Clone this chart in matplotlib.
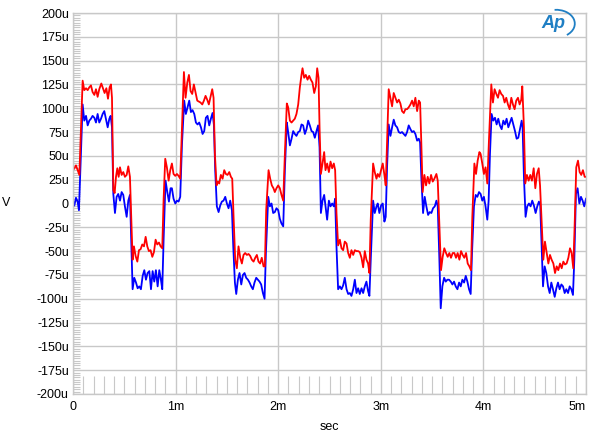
import numpy as np
import matplotlib
matplotlib.use('Agg')
import matplotlib.pyplot as plt
from matplotlib.ticker import MultipleLocator
from matplotlib.patches import Arc

plt.rcParams['font.family'] = ['Liberation Sans', 'DejaVu Sans']

# red trace: time (ms), level (uV)
red_t = [0.000, 0.013, 0.029, 0.045, 0.062, 0.078, 0.094, 0.110, 0.127, 0.143,
         0.159, 0.175, 0.191, 0.208, 0.224, 0.240, 0.256, 0.276, 0.292, 0.308,
         0.325, 0.341, 0.357, 0.370, 0.380, 0.393, 0.406, 0.419, 0.432, 0.445,
         0.458, 0.474, 0.490, 0.506, 0.523, 0.539, 0.555, 0.568, 0.581, 0.594,
         0.610, 0.627, 0.643, 0.659, 0.675, 0.692, 0.708, 0.724, 0.740, 0.756,
         0.773, 0.789, 0.805, 0.821, 0.838, 0.854, 0.870, 0.883, 0.899, 0.915,
         0.932, 0.948,
         0.964, 0.980, 0.997, 1.013, 1.029, 1.045, 1.062, 1.081, 1.097, 1.114,
         1.130, 1.146, 1.162, 1.178, 1.195, 1.211, 1.227, 1.243, 1.260, 1.276,
         1.292, 1.308, 1.324, 1.341, 1.357, 1.370, 1.383, 1.399, 1.412, 1.425,
         1.441, 1.458, 1.474, 1.490, 1.506, 1.523, 1.539, 1.552, 1.565, 1.581,
         1.597, 1.613, 1.630, 1.646, 1.662, 1.678, 1.695, 1.711, 1.727, 1.743,
         1.760, 1.776, 1.792, 1.808, 1.824, 1.840, 1.857, 1.870, 1.883, 1.906,
         1.922, 1.938, 1.954,
         1.967, 1.983, 2.000, 2.016, 2.032, 2.049, 2.065, 2.084, 2.097, 2.114,
         2.130, 2.146, 2.162, 2.178, 2.195, 2.211, 2.227, 2.237, 2.253, 2.269,
         2.286, 2.302, 2.318, 2.334, 2.351, 2.367, 2.380, 2.393, 2.403, 2.416,
         2.432, 2.448, 2.461, 2.477, 2.494, 2.510, 2.526, 2.542, 2.555, 2.568,
         2.584, 2.601, 2.617, 2.633, 2.649, 2.666, 2.682, 2.698, 2.714, 2.731,
         2.747, 2.763, 2.779, 2.795, 2.812, 2.828, 2.844, 2.860, 2.876, 2.889,
         2.902, 2.925, 2.941, 2.958,
         2.970, 2.986, 3.003, 3.019, 3.035, 3.048, 3.061, 3.077, 3.094, 3.110,
         3.126, 3.142, 3.159, 3.175, 3.191, 3.207, 3.224, 3.240, 3.256, 3.272,
         3.289, 3.305, 3.321, 3.337, 3.354, 3.370, 3.383, 3.395, 3.408, 3.425,
         3.441, 3.457, 3.473, 3.490, 3.506, 3.522, 3.542, 3.555, 3.571, 3.587,
         3.603, 3.619, 3.636, 3.652, 3.668, 3.684, 3.701, 3.717, 3.733, 3.749,
         3.766, 3.782, 3.798, 3.814, 3.831, 3.847, 3.863, 3.879, 3.892, 3.912,
         3.928, 3.944, 3.961,
         3.973, 3.989, 4.005, 4.021, 4.038, 4.054, 4.077, 4.093, 4.109, 4.126,
         4.142, 4.158, 4.174, 4.191, 4.207, 4.223, 4.239, 4.256, 4.272, 4.288,
         4.304, 4.320, 4.337, 4.353, 4.369, 4.379, 4.395, 4.408, 4.424, 4.441,
         4.457, 4.473, 4.490, 4.506, 4.522, 4.539, 4.552, 4.568, 4.584, 4.600,
         4.617, 4.633, 4.649, 4.665, 4.682, 4.698, 4.714, 4.730, 4.747, 4.763,
         4.779, 4.795, 4.811, 4.828, 4.844, 4.860, 4.876, 4.889, 4.905, 4.922,
         4.938, 4.954, 4.970, 4.987, 5.000]
red_v = [35, 37, 40, 35, 30, 80, 129, 119, 121, 119,
         122, 124, 117, 114, 120, 112, 120, 126, 121, 116,
         121, 110, 122, 125, 111, 14, 11, 28, 37, 28,
         38, 30, 33, 28, 30, 39, 28, -14, -59, -45,
         -55, -61, -49, -48, -43, -45, -35, -45, -50, -49,
         -56, -51, -38, -43, -41, -45, -47, 4, 47, 38,
         24, 35,
         42, 31, 29, 31, 29, 26, 80, 138, 111, 127,
         135, 118, 115, 125, 116, 108, 107, 106, 104, 108,
         113, 109, 104, 112, 120, 111, 52, 19, 23, 21,
         30, 26, 35, 31, 30, 33, 28, 26, -14, -59,
         -68, -45, -57, -63, -54, -52, -54, -53, -55, -59,
         -61, -57, -54, -61, -63, -57, -66, -66, -7, 35,
         26, 19, 16,
         12, 16, 19, 16, 9, 3, 52, 105, 101, 87,
         85, 87, 89, 94, 104, 122, 135, 142, 132, 135,
         130, 134, 130, 127, 116, 123, 142, 132, 80, 31,
         42, 54, 35, 42, 33, 44, 37, 42, 35, -10,
         -44, -38, -47, -49, -40, -42, -52, -57, -49, -54,
         -49, -50, -50, -51, -57, -67, -50, -59, -63, -73,
         -17, 42, 33, 26,
         31, 28, 35, 42, 30, 19, 63, 120, 111, 102,
         116, 111, 106, 109, 105, 97, 95, 99, 99, 101,
         104, 108, 102, 111, 97, 108, 106, 63, 12, 30,
         19, 28, 21, 30, 23, 26, 31, 24, -24, -70,
         -56, -47, -52, -56, -52, -57, -52, -52, -57, -52,
         -59, -50, -54, -57, -52, -63, -66, -70, -14, 42,
         31, 45, 54,
         52, 42, 31, 38, 21, 66, 125, 106, 120, 115,
         111, 119, 115, 113, 106, 111, 104, 99, 111, 104,
         99, 108, 111, 104, 109, 123, 80, 21, 30, 24,
         30, 24, 37, 16, 31, 37, 19, -21, -59, -40,
         -52, -63, -54, -59, -63, -73, -66, -70, -63, -68,
         -61, -64, -63, -57, -47, -52, -68, -24, 38, 45,
         33, 30, 35, 28, 28]

# blue trace: time (ms), level (uV)
blue_t = [0.000, 0.013, 0.029, 0.045, 0.058, 0.075, 0.094, 0.110, 0.127, 0.143,
          0.159, 0.175, 0.191, 0.208, 0.224, 0.240, 0.256, 0.273, 0.289, 0.305,
          0.321, 0.338, 0.354, 0.367, 0.380, 0.393, 0.409, 0.425, 0.441, 0.458,
          0.474, 0.490, 0.506, 0.523, 0.539, 0.555, 0.568, 0.581, 0.597, 0.614,
          0.630, 0.646, 0.662, 0.679, 0.695, 0.711, 0.727, 0.744, 0.760, 0.776,
          0.792, 0.808, 0.825, 0.841, 0.857, 0.870, 0.883, 0.902, 0.919, 0.935,
          0.951,
          0.964, 0.980, 0.997, 1.013, 1.029, 1.045, 1.062, 1.084, 1.100, 1.117,
          1.133, 1.149, 1.165, 1.182, 1.198, 1.214, 1.230, 1.247, 1.263, 1.279,
          1.295, 1.311, 1.328, 1.344, 1.360, 1.373, 1.386, 1.402, 1.419, 1.435,
          1.451, 1.467, 1.484, 1.500, 1.516, 1.532, 1.549, 1.562, 1.578, 1.591,
          1.607, 1.623, 1.640, 1.656, 1.672, 1.688, 1.705, 1.721, 1.737, 1.753,
          1.769, 1.786, 1.802, 1.818, 1.834, 1.851, 1.867, 1.880, 1.903, 1.919,
          1.935, 1.951,
          1.967, 1.983, 2.000, 2.016, 2.032, 2.049, 2.065, 2.084, 2.097, 2.114,
          2.130, 2.146, 2.162, 2.178, 2.195, 2.211, 2.227, 2.243, 2.260, 2.276,
          2.292, 2.308, 2.325, 2.341, 2.357, 2.373, 2.389, 2.403, 2.416, 2.432,
          2.448, 2.464, 2.477, 2.494, 2.510, 2.526, 2.542, 2.555, 2.568, 2.584,
          2.601, 2.617, 2.633, 2.649, 2.666, 2.682, 2.698, 2.714, 2.731, 2.747,
          2.763, 2.779, 2.795, 2.812, 2.828, 2.844, 2.860, 2.876, 2.889, 2.902,
          2.925, 2.941, 2.958,
          2.970, 2.986, 3.003, 3.019, 3.035, 3.048, 3.061, 3.077, 3.094, 3.110,
          3.126, 3.142, 3.159, 3.175, 3.191, 3.207, 3.224, 3.240, 3.256, 3.272,
          3.289, 3.305, 3.321, 3.337, 3.354, 3.370, 3.383, 3.395, 3.412, 3.428,
          3.444, 3.461, 3.477, 3.493, 3.509, 3.526, 3.542, 3.555, 3.571, 3.584,
          3.600, 3.617, 3.633, 3.649, 3.665, 3.682, 3.698, 3.714, 3.730, 3.747,
          3.763, 3.779, 3.795, 3.812, 3.828, 3.844, 3.860, 3.876, 3.889, 3.908,
          3.925, 3.941, 3.957,
          3.973, 3.989, 4.005, 4.021, 4.038, 4.051, 4.064, 4.080, 4.096, 4.113,
          4.129, 4.145, 4.161, 4.178, 4.194, 4.210, 4.226, 4.243, 4.259, 4.275,
          4.291, 4.308, 4.324, 4.340, 4.356, 4.373, 4.382, 4.395, 4.411, 4.427,
          4.444, 4.460, 4.476, 4.492, 4.509, 4.525, 4.541, 4.554, 4.568, 4.581,
          4.597, 4.613, 4.630, 4.646, 4.662, 4.678, 4.695, 4.711, 4.727, 4.743,
          4.760, 4.776, 4.792, 4.808, 4.825, 4.841, 4.857, 4.873, 4.886, 4.902,
          4.918, 4.935, 4.951, 4.967, 4.983, 5.000]
blue_v = [-3, -2, 6, 2, -7, 45, 104, 87, 92, 82,
          87, 89, 92, 90, 85, 94, 85, 89, 94, 97,
          89, 80, 89, 92, 80, 10, -10, 7, 10, 3,
          12, 9, -3, -14, 3, 9, -42, -90, -78, -83,
          -89, -87, -90, -76, -70, -80, -73, -71, -90, -71,
          -82, -70, -87, -70, -80, -90, -38, 24, 12, 2,
          16,
          16, 5, 0, 3, 2, 7, 62, 108, 94, 101,
          108, 96, 98, 94, 85, 83, 85, 80, 73, 76,
          90, 92, 82, 89, 95, 83, 35, -3, -9, -2,
          2, 3, 7, 0, -5, 3, -7, -45, -83, -95,
          -80, -73, -85, -75, -73, -78, -80, -83, -87, -90,
          -83, -78, -80, -82, -85, -94, -100, -52, 7, -3,
          0, -10,
          -9, -5, -7, -16, -21, -24, 35, 85, 75, 61,
          68, 76, 73, 71, 75, 76, 83, 82, 73, 78,
          87, 82, 76, 75, 69, 76, 82, 59, -10, 3,
          9, -5, -17, 3, -3, 0, -3, 5, -45, -90,
          -87, -90, -86, -78, -90, -95, -94, -97, -90, -80,
          -94, -89, -95, -89, -94, -87, -82, -92, -97, -59,
          3, -10, -3,
          0, -10, -2, 0, -19, -14, 38, 83, 71, 80,
          88, 82, 80, 75, 74, 75, 73, 71, 75, 82,
          78, 75, 76, 73, 66, 68, 64, 28, -10, 7,
          -3, -12, -9, -10, -5, -3, 3, -3, -59, -110,
          -87, -78, -82, -80, -80, -82, -85, -82, -87, -90,
          -83, -87, -80, -83, -76, -82, -90, -95, -52, -3,
          9, 7, 12,
          10, 3, 7, -3, -17, 3, 52, 94, 87, 90,
          83, 89, 82, 78, 87, 83, 89, 80, 85, 90,
          83, 76, 68, 69, 78, 87, 80, 28, -14, -3,
          0, -3, 3, -2, -10, -3, 2, -2, -45, -87,
          -66, -73, -87, -94, -83, -90, -98, -89, -83, -90,
          -85, -87, -94, -90, -94, -87, -90, -96, -59, 10,
          16, 0, 7, 3, -3, 5]

x_ticks = [0, 1, 2, 3, 4, 5]
x_labels = ['0', '1m', '2m', '3m', '4m', '5m']
y_ticks = list(range(-200, 201, 25))
y_labels = ['0' if v == 0 else f'{v}u' for v in y_ticks]

fig = plt.figure(figsize=(6, 4.46), dpi=100)
ax = fig.add_axes([73 / 600, 1 - 394 / 446, 513 / 600, 381 / 446])

grid_col = '#c8c8c8'
ax.set_xlim(0, 5)
ax.set_ylim(-200, 200)
ax.set_xticks(x_ticks)
ax.set_xticklabels(x_labels, fontsize=9)
ax.set_yticks(y_ticks)
ax.set_yticklabels(y_labels, fontsize=9)
ax.grid(True, color=grid_col, linewidth=1.0)
ax.tick_params(axis='both', which='major', length=0, pad=3)
ax.tick_params(axis='x', pad=5)

ax.xaxis.set_minor_locator(MultipleLocator(0.1))
ax.yaxis.set_minor_locator(MultipleLocator(2.5))
ax.tick_params(axis='x', which='minor', direction='in', length=13,
               color=grid_col, width=0.8)
ax.tick_params(axis='y', which='minor', direction='in', length=5,
               color=grid_col, width=0.8)
for s in ax.spines.values():
    s.set_color(grid_col)
    s.set_linewidth(1.0)

labels = ax.get_xticklabels()
labels[-1].set_horizontalalignment('right')

ax.plot(blue_t, blue_v, color='#0000ff', linewidth=1.3)
ax.plot(red_t, red_v, color='#ff0000', linewidth=1.3)

ax.set_xlabel('sec', fontsize=9, labelpad=6)
ax.set_ylabel('V', fontsize=9, rotation=0, labelpad=22, va='center')

# Ap logo, top right
logo_col = '#1f7fc4'
fig.text(0.922, 0.947, 'Ap', color=logo_col, fontsize=13, fontweight='bold',
         fontstyle='italic', ha='center', va='center')
fig.patches.append(Arc((0.927, 0.947), 0.062, 0.062, angle=15, theta1=-70,
                       theta2=80, color=logo_col, linewidth=1.3,
                       transform=fig.transFigure))

fig.savefig('out.png', dpi=100)
